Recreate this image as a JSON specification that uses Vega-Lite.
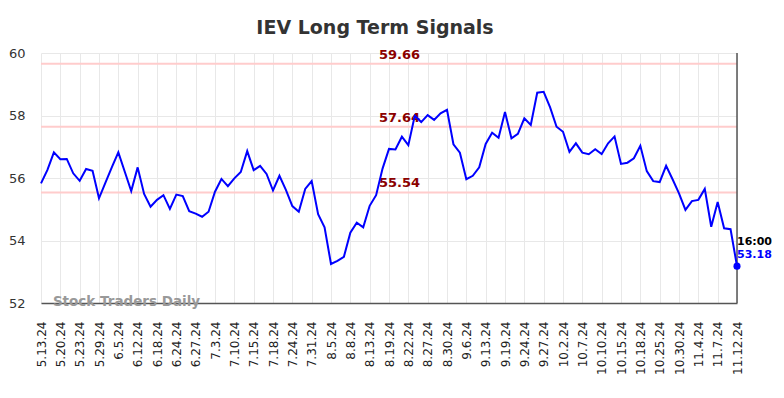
{
  "$schema": "https://vega.github.io/schema/vega-lite/v6.json",
  "width": 696,
  "height": 250,
  "autosize": {"type": "none"},
  "padding": {"left": 41, "top": 53, "right": 47, "bottom": 95},
  "background": "white",
  "title": {"text": "IEV Long Term Signals", "fontSize": 19, "fontWeight": "bold", "color": "#333333", "font": "DejaVu Sans", "offset": 9, "dx": -14, "anchor": "middle"},
  "config": {
    "view": {"stroke": null},
    "font": "DejaVu Sans",
    "axis": {"gridColor": "#e8e8e8", "gridWidth": 1, "labelFont": "DejaVu Sans", "labelColor": "#333333", "ticks": false, "title": null}
  },
  "datasets": {
    "prices": [
      {"date": "5.13.24", "close": 55.83}, {"date": "5.15.24", "close": 56.26}, {"date": "5.17.24", "close": 56.82},
      {"date": "5.20.24", "close": 56.60}, {"date": "5.21.24", "close": 56.61}, {"date": "5.22.24", "close": 56.15},
      {"date": "5.23.24", "close": 55.91}, {"date": "5.24.24", "close": 56.29}, {"date": "5.28.24", "close": 56.23},
      {"date": "5.29.24", "close": 55.35}, {"date": "5.31.24", "close": 55.85}, {"date": "6.3.24", "close": 56.35},
      {"date": "6.5.24", "close": 56.82}, {"date": "6.7.24", "close": 56.20}, {"date": "6.10.24", "close": 55.58},
      {"date": "6.12.24", "close": 56.34}, {"date": "6.14.24", "close": 55.49}, {"date": "6.17.24", "close": 55.08},
      {"date": "6.18.24", "close": 55.30}, {"date": "6.20.24", "close": 55.45}, {"date": "6.21.24", "close": 55.01},
      {"date": "6.24.24", "close": 55.47}, {"date": "6.25.24", "close": 55.42}, {"date": "6.26.24", "close": 54.94},
      {"date": "6.27.24", "close": 54.86}, {"date": "6.28.24", "close": 54.76}, {"date": "7.1.24", "close": 54.92},
      {"date": "7.3.24", "close": 55.56}, {"date": "7.5.24", "close": 55.97}, {"date": "7.8.24", "close": 55.74},
      {"date": "7.10.24", "close": 55.99}, {"date": "7.11.24", "close": 56.19}, {"date": "7.12.24", "close": 56.86},
      {"date": "7.15.24", "close": 56.25}, {"date": "7.16.24", "close": 56.39}, {"date": "7.17.24", "close": 56.13},
      {"date": "7.18.24", "close": 55.60}, {"date": "7.19.24", "close": 56.07}, {"date": "7.22.24", "close": 55.62},
      {"date": "7.24.24", "close": 55.10}, {"date": "7.26.24", "close": 54.92}, {"date": "7.29.24", "close": 55.65},
      {"date": "7.31.24", "close": 55.90}, {"date": "8.1.24", "close": 54.84}, {"date": "8.2.24", "close": 54.42},
      {"date": "8.5.24", "close": 53.25}, {"date": "8.6.24", "close": 53.35}, {"date": "8.7.24", "close": 53.48},
      {"date": "8.8.24", "close": 54.25}, {"date": "8.9.24", "close": 54.57}, {"date": "8.12.24", "close": 54.42},
      {"date": "8.13.24", "close": 55.11}, {"date": "8.15.24", "close": 55.45}, {"date": "8.16.24", "close": 56.30},
      {"date": "8.19.24", "close": 56.93}, {"date": "8.20.24", "close": 56.91}, {"date": "8.21.24", "close": 57.32},
      {"date": "8.22.24", "close": 57.05}, {"date": "8.23.24", "close": 57.99}, {"date": "8.26.24", "close": 57.79},
      {"date": "8.27.24", "close": 58.01}, {"date": "8.28.24", "close": 57.86}, {"date": "8.29.24", "close": 58.07},
      {"date": "8.30.24", "close": 58.18}, {"date": "9.3.24", "close": 57.08}, {"date": "9.4.24", "close": 56.81},
      {"date": "9.6.24", "close": 55.96}, {"date": "9.10.24", "close": 56.07}, {"date": "9.11.24", "close": 56.34},
      {"date": "9.13.24", "close": 57.09}, {"date": "9.17.24", "close": 57.45}, {"date": "9.18.24", "close": 57.29},
      {"date": "9.19.24", "close": 58.11}, {"date": "9.20.24", "close": 57.27}, {"date": "9.23.24", "close": 57.41},
      {"date": "9.24.24", "close": 57.91}, {"date": "9.25.24", "close": 57.70}, {"date": "9.26.24", "close": 58.73},
      {"date": "9.27.24", "close": 58.76}, {"date": "9.30.24", "close": 58.26}, {"date": "10.1.24", "close": 57.64},
      {"date": "10.2.24", "close": 57.48}, {"date": "10.3.24", "close": 56.84}, {"date": "10.4.24", "close": 57.11},
      {"date": "10.7.24", "close": 56.81}, {"date": "10.8.24", "close": 56.76}, {"date": "10.9.24", "close": 56.92},
      {"date": "10.10.24", "close": 56.77}, {"date": "10.11.24", "close": 57.11}, {"date": "10.14.24", "close": 57.33},
      {"date": "10.15.24", "close": 56.45}, {"date": "10.16.24", "close": 56.49}, {"date": "10.17.24", "close": 56.63},
      {"date": "10.18.24", "close": 57.03}, {"date": "10.22.24", "close": 56.22}, {"date": "10.24.24", "close": 55.90},
      {"date": "10.25.24", "close": 55.87}, {"date": "10.28.24", "close": 56.39}, {"date": "10.29.24", "close": 55.96},
      {"date": "10.30.24", "close": 55.51}, {"date": "10.31.24", "close": 54.98}, {"date": "11.1.24", "close": 55.26},
      {"date": "11.4.24", "close": 55.30}, {"date": "11.5.24", "close": 55.65}, {"date": "11.6.24", "close": 54.44},
      {"date": "11.7.24", "close": 55.23}, {"date": "11.8.24", "close": 54.39}, {"date": "11.11.24", "close": 54.36},
      {"date": "11.12.24", "close": 53.18}
    ],
    "levels": [
      {"date": "8.20.24", "level": 59.66, "label": "59.66"},
      {"date": "8.20.24", "level": 57.64, "label": "57.64"},
      {"date": "8.20.24", "level": 55.54, "label": "55.54"}
    ],
    "last": [{"date": "11.12.24", "close": 53.18, "time": "16:00", "label": "53.18"}],
    "mark": [{"date": "5.17.24", "close": 52, "text": "Stock Traders Daily"}]
  },
  "encoding": {
    "x": {
      "field": "date",
      "type": "ordinal",
      "scale": {
        "type": "point",
        "padding": 0,
        "domain": ["5.13.24","5.15.24","5.17.24","5.20.24","5.21.24","5.22.24","5.23.24","5.24.24","5.28.24","5.29.24","5.31.24","6.3.24","6.5.24","6.7.24","6.10.24","6.12.24","6.14.24","6.17.24","6.18.24","6.20.24","6.21.24","6.24.24","6.25.24","6.26.24","6.27.24","6.28.24","7.1.24","7.3.24","7.5.24","7.8.24","7.10.24","7.11.24","7.12.24","7.15.24","7.16.24","7.17.24","7.18.24","7.19.24","7.22.24","7.24.24","7.26.24","7.29.24","7.31.24","8.1.24","8.2.24","8.5.24","8.6.24","8.7.24","8.8.24","8.9.24","8.12.24","8.13.24","8.15.24","8.16.24","8.19.24","8.20.24","8.21.24","8.22.24","8.23.24","8.26.24","8.27.24","8.28.24","8.29.24","8.30.24","9.3.24","9.4.24","9.6.24","9.10.24","9.11.24","9.13.24","9.17.24","9.18.24","9.19.24","9.20.24","9.23.24","9.24.24","9.25.24","9.26.24","9.27.24","9.30.24","10.1.24","10.2.24","10.3.24","10.4.24","10.7.24","10.8.24","10.9.24","10.10.24","10.11.24","10.14.24","10.15.24","10.16.24","10.17.24","10.18.24","10.22.24","10.24.24","10.25.24","10.28.24","10.29.24","10.30.24","10.31.24","11.1.24","11.4.24","11.5.24","11.6.24","11.7.24","11.8.24","11.11.24","11.12.24"]
      },
      "axis": {
        "values": ["5.13.24","5.20.24","5.23.24","5.29.24","6.5.24","6.12.24","6.18.24","6.24.24","6.27.24","7.3.24","7.10.24","7.15.24","7.18.24","7.24.24","7.31.24","8.5.24","8.8.24","8.13.24","8.19.24","8.22.24","8.27.24","8.30.24","9.6.24","9.13.24","9.19.24","9.24.24","9.27.24","10.2.24","10.7.24","10.10.24","10.15.24","10.18.24","10.25.24","10.30.24","11.4.24","11.7.24","11.12.24"],
        "labelAngle": -90,
        "labelFontSize": 12,
        "labelPadding": 18,
        "labelColor": "#222222",
        "domainColor": "#555555",
        "domainWidth": 1.5,
        "grid": true
      }
    }
  },
  "layer": [
    {
      "data": {"name": "prices"},
      "mark": {"type": "line", "opacity": 0},
      "encoding": {
        "y": {"field": "close", "type": "quantitative", "scale": {"domain": [52, 60], "nice": false, "zero": false},
          "axis": {"values": [52, 54, 56, 58, 60], "labelFontSize": 13, "labelPadding": 16, "domain": false, "grid": true}}
      }
    },
    {
      "data": {"name": "levels"},
      "mark": {"type": "rule", "color": "#ffcccc", "strokeWidth": 2},
      "encoding": {"x": null, "y": {"field": "level", "type": "quantitative"}}
    },
    {
      "data": {"name": "levels"},
      "mark": {"type": "text", "color": "#8b0000", "fontWeight": "bold", "fontSize": 13, "align": "center", "baseline": "bottom", "dx": 4, "dy": -2},
      "encoding": {"y": {"field": "level", "type": "quantitative"}, "text": {"field": "label"}}
    },
    {
      "data": {"name": "mark"},
      "mark": {"type": "text", "color": "#999999", "fontWeight": "bold", "fontSize": 13.5, "align": "left", "baseline": "middle", "dx": -1, "dy": -1},
      "encoding": {"y": {"field": "close", "type": "quantitative"}, "text": {"field": "text"}}
    },
    {
      "data": {"name": "last"},
      "mark": {"type": "rule", "color": "#555555", "strokeWidth": 1.5},
      "encoding": {}
    },
    {
      "data": {"name": "prices"},
      "mark": {"type": "line", "color": "#0000ff", "strokeWidth": 2},
      "encoding": {"y": {"field": "close", "type": "quantitative"}}
    },
    {
      "data": {"name": "last"},
      "mark": {"type": "point", "filled": true, "color": "#0000ff", "size": 50, "opacity": 1},
      "encoding": {"y": {"field": "close", "type": "quantitative"}}
    },
    {
      "data": {"name": "last"},
      "mark": {"type": "text", "color": "#000000", "fontWeight": "bold", "fontSize": 11, "align": "left", "baseline": "middle", "dx": 0, "dy": -24},
      "encoding": {"y": {"field": "close", "type": "quantitative"}, "text": {"field": "time"}}
    },
    {
      "data": {"name": "last"},
      "mark": {"type": "text", "color": "#0000ff", "fontWeight": "bold", "fontSize": 11, "align": "left", "baseline": "middle", "dx": 0, "dy": -11},
      "encoding": {"y": {"field": "close", "type": "quantitative"}, "text": {"field": "label"}}
    }
  ]
}
